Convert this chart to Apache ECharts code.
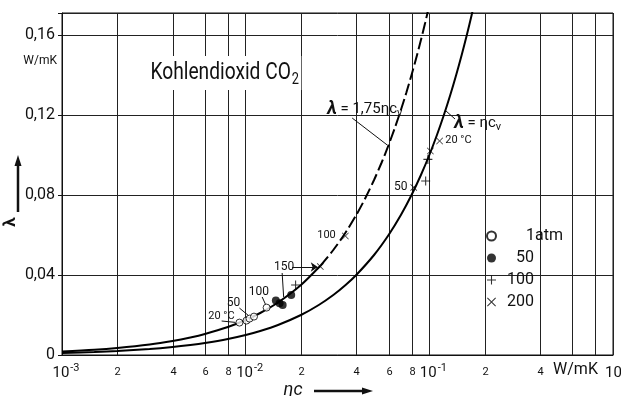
<!DOCTYPE html>
<html>
<head>
<meta charset="utf-8">
<script src="https://cdn.jsdelivr.net/npm/echarts@6/dist/echarts.min.js"></script>
<style>html,body{margin:0;padding:0;background:#fff}#c{width:621px;height:396px}</style>
</head>
<body>
<div id="c"></div>
<script>
// ---- data ----
// lambda = eta*c_v (solid)
const lowX = [0.001,0.0015,0.002,0.003,0.004,0.005,0.006,0.008,0.01,0.012,0.015,0.02,0.025,0.03,0.035,0.04,0.05,0.06,0.07,0.08,0.09,0.1,0.11,0.12,0.13,0.14,0.15,0.16,0.17,0.18];
const lowY = [0.001,0.0015,0.002,0.003,0.004,0.005,0.006,0.008,0.01,0.012,0.015,0.02,0.025,0.03,0.035,0.04,0.05,0.06,0.07,0.08,0.09,0.1,0.11,0.12,0.13,0.14,0.15,0.16,0.17,0.18];
// lambda = 1.75 eta*c_v (solid part, then dashed)
const upSolidX = [0.001,0.0015,0.002,0.003,0.004,0.005,0.006,0.008,0.01,0.012,0.015,0.02,0.0255];
const upSolidY = [0.00175,0.0026,0.0035,0.00525,0.007,0.00875,0.0105,0.014,0.0175,0.021,0.02625,0.035,0.0446];
const upDashX = [0.0255,0.03,0.035,0.04,0.045,0.05,0.055,0.06,0.065,0.07,0.075,0.08,0.085,0.09,0.095,0.1];
const upDashY = [0.0446,0.0525,0.06125,0.07,0.07875,0.0875,0.09625,0.105,0.11375,0.1225,0.13125,0.14,0.14875,0.1575,0.16625,0.175];
// measured points
const atm1X = [0.00925,0.0101,0.0105,0.0111,0.0130];
const atm1Y = [0.0162,0.0172,0.0182,0.0192,0.0237];
const atm50X = [0.0146,0.0153,0.0159,0.0177];
const atm50Y = [0.0272,0.0259,0.0250,0.0300];
const atm100X = [0.0187,0.0955,0.0982];
const atm100Y = [0.0350,0.0870,0.0978];
const atm200X = [0.0255,0.0349,0.0822,0.1013,0.1137];
const atm200Y = [0.0442,0.0595,0.0838,0.1020,0.1070];
// axis ticks
const yTicks = [0,0.04,0.08,0.12,0.16];
const minorTicks = [0.002,0.004,0.006,0.008,0.02,0.04,0.06,0.08,0.2,0.4,0.6,0.8];
const minorLabels = ['2','4','6','8','2','4','6','8','2','4','W/mK',''];
const legendNames = ['1 atm','50','100','200'];

// annotation texts: [x, y, text, size]
const annTexts = [
  [0.0445,0.1230,'{l|λ} = 1,75ηc{s|v}', 15],
  [0.1833,0.1160,'{l|λ} = ηc{s|v}', 15],
  [0.00738,0.0195,'20 °C', 11],
  [0.00858,0.0262,'50', 12],
  [0.01181,0.0317,'100', 12],
  [0.01618,0.0442,'150', 12],
  [0.02755,0.0597,'100', 11],
  [0.0698,0.0838,'50', 12],
  [0.1440,0.1075,'20 °C', 11]
];
// leader lines: [[x1,y1],[x2,y2], arrow]
const leaders = [
  [[0.0074,0.0170],[0.0088,0.0163],false],
  [[0.00924,0.0235],[0.0104,0.0196],false],
  [[0.0123,0.0290],[0.0128,0.0255],false],
  [[0.0179,0.0440],[0.0247,0.0440],true],
  [[0.0158,0.0410],[0.0161,0.0290],false],
  [[0.0380,0.1185],[0.0590,0.1050],false],
  [[0.1233,0.1220],[0.1380,0.1180],false]
];

const FF = "Roboto,'Liberation Sans',sans-serif";
const plusPath = 'path://M4.4,0H5.6V4.4H10V5.6H5.6V10H4.4V5.6H0V4.4H4.4Z';
const crossPath = 'path://M0.8,0L5,4.2L9.2,0L10,0.8L5.8,5L10,9.2L9.2,10L5,5.8L0.8,10L0,9.2L4.2,5L0,0.8Z';
const zip = (a,b) => a.map((v,i)=>[v,b[i]]);

const chart = echarts.init(document.getElementById('c'), null, {renderer:'canvas'});
const option = {
  animation:false,
  backgroundColor:'#fff',
  textStyle:{fontFamily:FF},
  grid:{left:62,right:8,top:13,bottom:41,show:true,borderColor:'#111',borderWidth:1,backgroundColor:'transparent',
        outerBoundsMode:'none', containLabel:false},
  legend:{
    orient:'vertical', left:481, top:223, itemWidth:9, itemHeight:9, itemGap:6,
    data:legendNames,
    formatter:n => n==='1 atm' ? '{m|1atm}' : '{n|'+n+'}',
    textStyle:{fontFamily:FF,fontSize:16,color:'#111',lineHeight:16,
      rich:{n:{fontFamily:FF,fontSize:16,width:33,align:'right',color:'#111'},
            m:{fontFamily:FF,fontSize:16,padding:[0,0,0,25],color:'#111'}}}
  },
  xAxis:{
    type:'log', logBase:10, min:0.001, max:1,
    axisLine:{lineStyle:{color:'#111'}},
    axisTick:{show:false},
    splitLine:{show:true,lineStyle:{color:'#222',width:1}},
    axisLabel:{
      margin:8, color:'#111', padding:[0,0,0,8],
      formatter:v => { const e = Math.round(Math.log10(v)); return '{b|10}{s|'+(e===0?'0':e)+'}'; },
      rich:{b:{fontFamily:FF,fontSize:15,color:'#111',verticalAlign:'bottom',lineHeight:18},
            s:{fontFamily:FF,fontSize:11,color:'#111',verticalAlign:'top',lineHeight:18,padding:[0,0,8,1]}}
    }
  },
  yAxis:{
    type:'value', min:0, max:0.171, interval:0.04,
    axisLine:{show:true,lineStyle:{color:'#111'}},
    axisTick:{show:true,length:4,lineStyle:{color:'#111'}},
    splitLine:{show:true,lineStyle:{color:'#222',width:1}},
    axisLabel:{
      margin:7, color:'#111', fontFamily:FF, fontSize:16,
      formatter:v => { const i = yTicks.findIndex(t=>Math.abs(t-v)<1e-9); if(i<0) return ''; return v===0?'0':v.toFixed(2).replace('.',','); }
    }
  },
  series:[
    { name:'minor', type:'custom', silent:true, clip:false, z:1,
      data: minorTicks.map((v,i)=>[v,i]),
      renderItem:(params, api) => {
        const cs = params.coordSys;
        const x = Math.round(api.coord([api.value(0), 0])[0]) + 0.5;
        const lab = minorLabels[api.value(1)];
        const big = lab === 'W/mK';
        return {type:'group', children:[
          {type:'line', shape:{x1:x,y1:cs.y,x2:x,y2:cs.y+cs.height}, style:{stroke:'#222',lineWidth:1}},
          {type:'text', style:{x:big?x+3:x, y:cs.y+cs.height+(big?15:17), text:lab, textAlign:'center', textVerticalAlign:'middle',
            font:(big?'16px ':'11px ')+FF, fill:'#111'}}
        ]};
      }
    },
    { name:'low', type:'line', data:zip(lowX,lowY), showSymbol:false, smooth:0.3, silent:true,
      lineStyle:{color:'#000',width:2}, z:3 },
    { name:'upSolid', type:'line', data:zip(upSolidX,upSolidY), showSymbol:false, smooth:0.3, silent:true,
      lineStyle:{color:'#000',width:2}, z:3 },
    { name:'upDash', type:'line', data:zip(upDashX,upDashY), showSymbol:false, smooth:0.3, silent:true,
      lineStyle:{color:'#000',width:2,type:[12,4]}, z:3 },
    { name:'annot', type:'scatter', data:[], silent:true, z:4,
      markLine:{ silent:true, symbol:'none', symbolSize:7, animation:false,
        label:{show:false},
        lineStyle:{color:'#111',width:1,type:'solid'},
        data: leaders.map(l=>[{coord:l[0],symbol:'none'},{coord:l[1],symbol:l[2]?'arrow':'none',symbolSize:7}])
      },
      markPoint:{ silent:true, symbol:'circle', symbolSize:0, animation:false,
        data: annTexts.map(a=>({coord:[a[0],a[1]],
          label:{show:true,position:'inside',formatter:a[2],fontFamily:FF,fontSize:a[3],color:'#111',
            rich:{l:{fontFamily:FF,fontSize:a[3]+3,fontStyle:'italic',fontWeight:'bold',color:'#111'},
                  s:{fontFamily:FF,fontSize:a[3]-4,padding:[8,0,0,0],color:'#111'}}}}))
      }
    },
    { name:'1 atm', type:'scatter', data:zip(atm1X,atm1Y), symbol:'circle', symbolSize:7,
      itemStyle:{color:'#fff',borderColor:'#000',borderWidth:1}, z:5 },
    { name:'50', type:'scatter', data:zip(atm50X,atm50Y), symbol:'circle', symbolSize:8,
      itemStyle:{color:'#000'}, z:5 },
    { name:'100', type:'scatter', data:zip(atm100X,atm100Y), symbol:plusPath, symbolSize:9,
      itemStyle:{color:'#000'}, z:5 },
    { name:'200', type:'scatter', data:zip(atm200X,atm200Y), symbol:crossPath, symbolSize:7,
      itemStyle:{color:'#000'}, z:5 }
  ],
  graphic:[
    {type:'text', x:148, y:56, scaleX:0.8, z:10,
      style:{text:'Kohlendioxid CO{s|2}', font:'24px '+FF, fill:'#111', backgroundColor:'#fff', padding:[2,3],
        rich:{s:{font:'16px '+FF, fill:'#111', padding:[14,0,0,1]}}}},
    {type:'text', style:{x:57,y:61,text:'W/mK',textAlign:'right',textVerticalAlign:'middle',font:'12px '+FF,fill:'#111'}},
    {type:'line', shape:{x1:18,y1:212,x2:18,y2:162}, style:{stroke:'#111',lineWidth:2.5}},
    {type:'polygon', shape:{points:[[18,155],[14.5,166],[21.5,166]]}, style:{fill:'#111'}},
    {type:'text', x:11, y:222, rotation:Math.PI/2, style:{text:'λ',textAlign:'center',textVerticalAlign:'middle',font:'bold 17px '+FF,fill:'#111'}},
    {type:'text', style:{x:293,y:390,text:'ηc',textAlign:'center',textVerticalAlign:'middle',font:'italic 18px '+FF,fill:'#111'}},
    {type:'line', shape:{x1:314,y1:391,x2:364,y2:391}, style:{stroke:'#111',lineWidth:2.5}},
    {type:'polygon', shape:{points:[[373,391],[362,387.5],[362,394.5]]}, style:{fill:'#111'}}
  ]
};
chart.setOption(option);
</script>
</body>
</html>
